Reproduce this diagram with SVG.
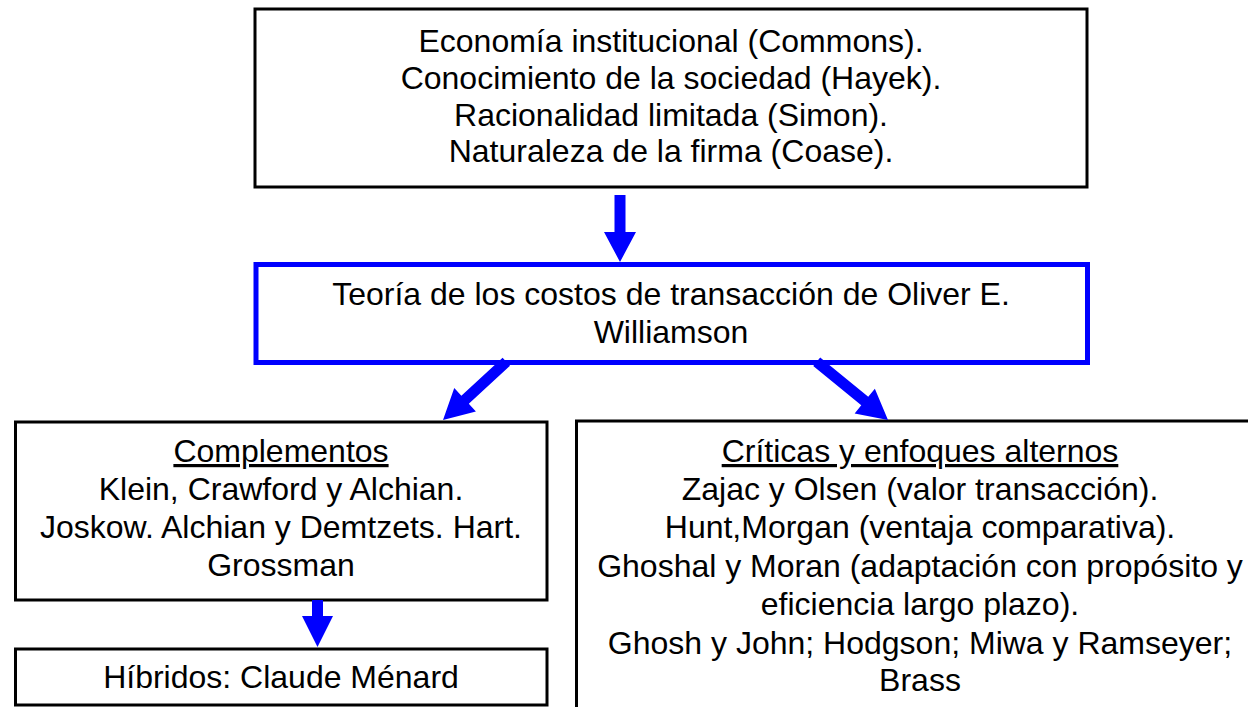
<svg xmlns="http://www.w3.org/2000/svg" width="1248" height="707" viewBox="0 0 1248 707">
<style>
.box{fill:#fff;stroke:#000;stroke-width:3}
.bbox{fill:#fff;stroke:#0000ff;stroke-width:5}
text{font-family:"Liberation Sans",Arial,sans-serif;font-size:32px;fill:#000;text-anchor:middle}
.arrow{fill:#0000ff;stroke:none}
</style>
<rect width="1248" height="707" fill="#fff"/>
<g id="node-origins">
<rect class="box" x="255" y="9" width="832" height="178"/>
<text x="671" y="52">Economía institucional (Commons).</text>
<text x="671" y="89">Conocimiento de la sociedad (Hayek).</text>
<text x="671" y="126">Racionalidad limitada (Simon).</text>
<text x="671" y="162">Naturaleza de la firma (Coase).</text>
</g>
<g id="node-theory">
<rect class="bbox" x="256" y="264.5" width="831.5" height="98"/>
<text x="671" y="305">Teoría de los costos de transacción de Oliver E.</text>
<text x="671" y="343">Williamson</text>
</g>
<g id="node-complementos">
<rect class="box" x="15.5" y="422" width="531.5" height="178"/>
<text x="281" y="462" text-decoration="underline">Complementos</text>
<text x="281" y="500">Klein, Crawford y Alchian.</text>
<text x="281" y="538">Joskow. Alchian y Demtzets. Hart.</text>
<text x="281" y="576">Grossman</text>
</g>
<g id="node-hibridos">
<rect class="box" x="15.5" y="649" width="531.5" height="56"/>
<text x="281" y="688">Híbridos: Claude Ménard</text>
</g>
<g id="node-criticas">
<rect class="box" x="576.5" y="421" width="690" height="320"/>
<text x="920" y="462" text-decoration="underline">Críticas y enfoques alternos</text>
<text x="920" y="500">Zajac y Olsen (valor transacción).</text>
<text x="920" y="538">Hunt,Morgan (ventaja comparativa).</text>
<text x="920" y="577">Ghoshal y Moran (adaptación con propósito y</text>
<text x="920" y="615">eficiencia largo plazo).</text>
<text x="920" y="654">Ghosh y John; Hodgson; Miwa y Ramseyer;</text>
<text x="920" y="691">Brass</text>
</g>
<g id="connectors">
<polygon class="arrow" points="614.5,195 625.5,195 625.5,232 636,232 620,262 604,232 614.5,232"/>
<polygon class="arrow" transform="translate(443,420) rotate(137.4)" points="-86,-5.5 -30,-5.5 -30,-16 0,0 -30,16 -30,5.5 -86,5.5"/>
<polygon class="arrow" transform="translate(888,420) rotate(39.2)" points="-92,-5.5 -30,-5.5 -30,-16 0,0 -30,16 -30,5.5 -92,5.5"/>
<polygon class="arrow" points="312,600 323,600 323,616 333,616 317.5,647 302,616 312,616"/>
</g>
</svg>
